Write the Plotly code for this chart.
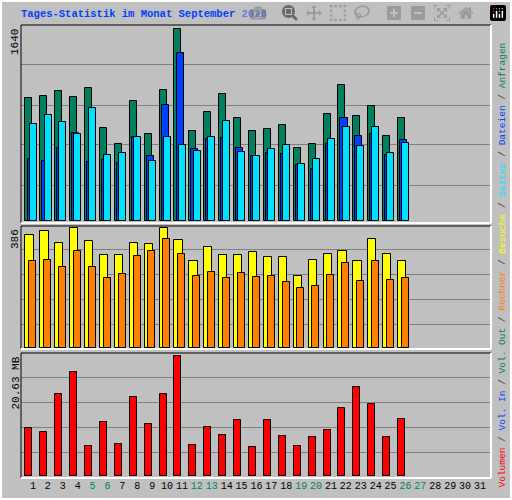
import plotly.graph_objects as go

days = list(range(1, 32))
shown = list(range(1, 27))
weekend = [5, 6, 12, 13, 19, 20, 26, 27]

anfragen = [1048, 1065, 1108, 1056, 1133, 792, 655, 1022, 740, 1116, 1640, 766, 928,
            1082, 877, 766, 783, 817, 621, 655, 911, 1159, 894, 980, 723, 877]
dateien = [527, 510, 621, 749, 501, 518, 493, 717, 553, 988, 1432, 612, 700,
           706, 621, 553, 578, 570, 476, 442, 655, 877, 723, 740, 561, 689]
seiten = [826, 903, 843, 740, 962, 561, 578, 717, 515, 717, 646, 595, 717,
          851, 587, 553, 612, 646, 484, 527, 698, 800, 638, 800, 578, 663]
besuche = [363, 376, 338, 386, 344, 299, 299, 338, 335, 386, 347, 280, 325,
           299, 299, 309, 293, 293, 232, 283, 302, 312, 280, 351, 302, 280]
rechner = [280, 283, 261, 312, 261, 225, 238, 296, 312, 351, 302, 232, 244,
           225, 241, 228, 232, 212, 193, 199, 235, 273, 216, 280, 219, 225]
volumen = [8.18, 7.49, 14.06, 17.87, 5.07, 9.22, 5.42, 13.54, 8.87, 14.06, 20.63, 5.24, 8.36,
           6.97, 9.57, 4.90, 9.57, 6.80, 5.07, 6.63, 7.84, 11.64, 15.27, 12.33, 6.63, 9.74]

GREEN, BLUE, CYAN = "#00805F", "#0040FF", "#00E0FF"
YELLOW, ORANGE, RED = "#FFFF00", "#FF8000", "#FF0000"
BG = "#C0C0C0"
FONT = "Liberation Mono"

fig = go.Figure()


def bars(y, color, offset, width, xa, ya):
    fig.add_trace(go.Bar(x=shown, y=y, offset=offset, width=width, xaxis=xa, yaxis=ya,
                         marker=dict(color=color, line=dict(color="black", width=1)),
                         showlegend=False, hoverinfo="skip"))


bars(anfragen, GREEN, -0.5, 0.47, "x", "y")
bars(dateien, BLUE, -0.36, 0.47, "x", "y")
bars(seiten, CYAN, -0.22, 0.47, "x", "y")
bars(besuche, YELLOW, -0.5, 0.55, "x2", "y2")
bars(rechner, ORANGE, -0.25, 0.47, "x2", "y2")
bars(volumen, RED, -0.5, 0.47, "x3", "y3")

xdom = [21 / 512, 491 / 512]
xr = [0.2, 31.74]
ticktext = [f"<span style='color:{GREEN}'>{d}</span>" if d in weekend else str(d) for d in days]

common_y = dict(showticklabels=False, zeroline=False, showgrid=True, gridcolor="#808080",
                gridwidth=1, ticks="")
fig.update_layout(
    width=512, height=500, margin=dict(l=0, r=0, t=0, b=0),
    paper_bgcolor=BG, plot_bgcolor=BG, barmode="overlay", bargap=0,
    font=dict(family=FONT, size=11, color="black"),
    xaxis=dict(domain=xdom, range=xr, anchor="y", showticklabels=False, showgrid=False, zeroline=False),
    xaxis2=dict(domain=xdom, range=xr, anchor="y2", showticklabels=False, showgrid=False, zeroline=False),
    xaxis3=dict(domain=xdom, range=xr, anchor="y3", showgrid=False, zeroline=False,
                tickvals=days, ticktext=ticktext, ticks="", tickangle=0, automargin=False,
                tickfont=dict(size=10)),
    yaxis=dict(domain=[1 - 223 / 500, 1 - 25 / 500], range=[-17, 1674],
               tickvals=[0.1875 * 1640, 0.396 * 1640, 0.604 * 1640, 0.8125 * 1640], **common_y),
    yaxis2=dict(domain=[1 - 349 / 500, 1 - 226 / 500], range=[-2, 393],
                tickvals=[77.2, 157.6, 238, 318.5], **common_y),
    yaxis3=dict(domain=[1 - 478 / 500, 1 - 353 / 500], range=[-0.4, 21.2],
                tickvals=[4.05, 8.37, 12.69, 17.0], **common_y),
)

# panel frames: dark top/left, white bottom/right
for y0, y1 in [(25, 223), (226, 349), (353, 478)]:
    p0, p1 = 1 - y1 / 500, 1 - y0 / 500
    fig.add_shape(type="line", xref="paper", yref="paper", x0=xdom[0], x1=xdom[1], y0=p1, y1=p1,
                  line=dict(color="black", width=1))
    fig.add_shape(type="line", xref="paper", yref="paper", x0=xdom[0], x1=xdom[0], y0=p0, y1=p1,
                  line=dict(color="black", width=1))
    fig.add_shape(type="line", xref="paper", yref="paper", x0=xdom[0], x1=xdom[1], y0=p0, y1=p0,
                  line=dict(color="white", width=2))
    fig.add_shape(type="line", xref="paper", yref="paper", x0=xdom[1], x1=xdom[1], y0=p0, y1=p1,
                  line=dict(color="white", width=2))
fig.add_shape(type="rect", xref="paper", yref="paper", x0=0.002, x1=0.998, y0=0.002, y1=0.998,
              line=dict(color="white", width=2))

fig.add_annotation(text="<b>Tages-Statistik im Monat September 2026</b>", xref="paper", yref="paper",
                   x=19 / 512, y=1 - 6 / 500, xanchor="left", yanchor="top", showarrow=False,
                   font=dict(family=FONT, size=10.5, color="#0040FF"))

for label, ytop in [("1640", 27), ("386", 227), ("20.63 MB", 355)]:
    fig.add_annotation(text=label, textangle=-90, xref="paper", yref="paper",
                       x=15 / 512, y=1 - ytop / 500, xanchor="center", yanchor="top",
                       showarrow=False, font=dict(family=FONT, size=11, color="black"))

sep = "<span style='color:#404040'> / </span>"
parts = [("Volumen", RED), ("Vol. In", BLUE), ("Vol. Out", GREEN), ("Rechner", ORANGE),
         ("Besuche", YELLOW), ("Seiten", CYAN), ("Dateien", BLUE), ("Anfragen", GREEN)]
legend = sep.join(f"<span style='color:{c}'>{t}</span>" for t, c in parts)
fig.add_annotation(text=legend, textangle=-90, xref="paper", yref="paper",
                   x=502 / 512, y=1 - 490 / 500, xanchor="center", yanchor="bottom",
                   showarrow=False, font=dict(family=FONT, size=9.5))

fig.write_html("out.html", post_script="document.body.style.margin='0';")
